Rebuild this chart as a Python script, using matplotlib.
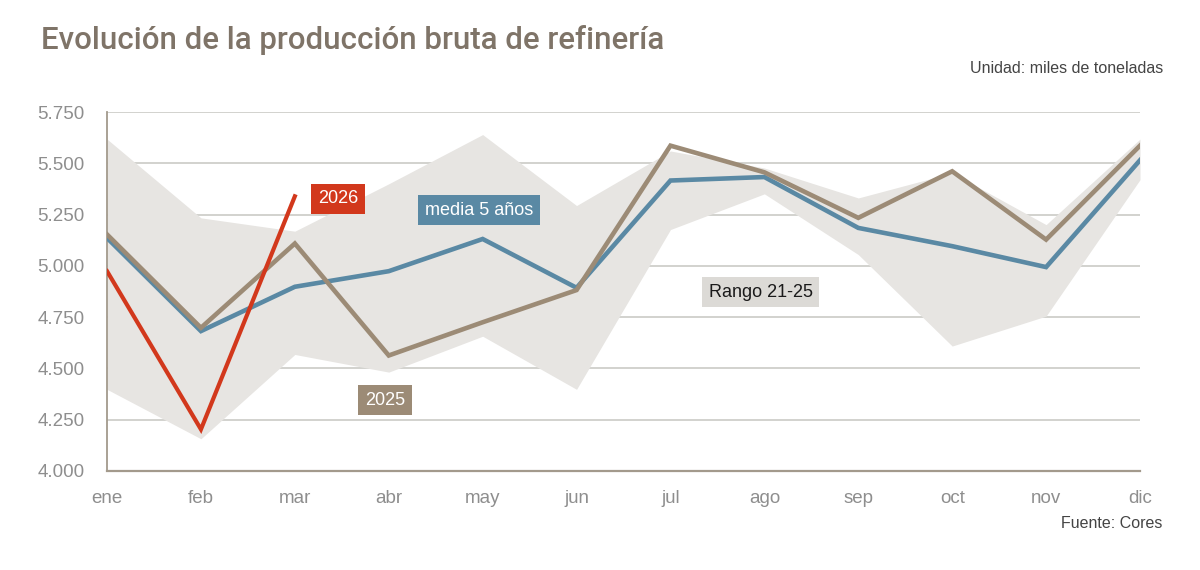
import matplotlib
matplotlib.use("Agg")
import matplotlib.pyplot as plt
from matplotlib.ticker import FuncFormatter

plt.rcParams['font.family'] = ['Liberation Sans', 'DejaVu Sans']

meses = ["ene", "feb", "mar", "abr", "may", "jun",
         "jul", "ago", "sep", "oct", "nov", "dic"]

# miles de toneladas
rango_max = [5618, 5234, 5169, 5400, 5640, 5294,
             5560, 5477, 5331, 5453, 5201, 5618]
rango_min = [4398, 4157, 4568, 4482, 4657, 4398,
             5177, 5351, 5055, 4609, 4755, 5420]
media_5 = [5136, 4682, 4898, 4974, 5131, 4893,
           5416, 5433, 5185, 5096, 4994, 5515]
prod_2025 = [5153, 4698, 5109, 4563, 4725, 4882,
             5586, 5456, 5234, 5461, 5128, 5586]
prod_2026 = [4974, 4203, 5339]

rojo = "#d2381c"
azul = "#5a89a4"
marron = "#9c8b76"
banda = "#e7e5e2"

x = list(range(len(meses)))

fig = plt.figure(figsize=(12, 5.7), dpi=100)
ax = fig.add_axes([0.0892, 0.1737, 0.8608, 0.6298])

ax.fill_between(x, rango_min, rango_max, color=banda, lw=0, zorder=2)
ax.plot(x, media_5, color=azul, lw=3.3, zorder=3, solid_joinstyle="miter")
ax.plot(x, prod_2025, color=marron, lw=3.3, zorder=4, solid_joinstyle="miter")
ax.plot(x[:len(prod_2026)], prod_2026, color=rojo, lw=3.0, zorder=5,
        solid_joinstyle="miter")

ax.set_xlim(0, 11)
ax.set_ylim(4000, 5750)
ax.set_yticks(range(4000, 5751, 250))
ax.yaxis.set_major_formatter(
    FuncFormatter(lambda v, p: f"{v / 1000:.3f}"))
ax.set_xticks(x)
ax.set_xticklabels(meses)
ax.grid(axis="y", color="#cfcfca", lw=1.3, zorder=1)
ax.set_axisbelow(True)
for s in ["top", "right"]:
    ax.spines[s].set_visible(False)
ax.spines["left"].set_color("#a39a8c")
ax.spines["left"].set_linewidth(1.3)
ax.spines["bottom"].set_color("#a39a8c")
ax.spines["bottom"].set_linewidth(1.6)
ax.tick_params(length=0, labelsize=13.5, labelcolor="#8e8e8e")
ax.tick_params(axis="x", pad=14)
ax.tick_params(axis="y", pad=16)

# etiquetas de series
caja = "square,pad=0.38"
ax.text(2.46, 5326, "2026", color="white", fontsize=13, ha="center",
        va="center", zorder=6, bbox=dict(boxstyle=caja, fc=rojo, ec="none"))
ax.text(3.96, 5272, "media 5 años", color="white", fontsize=13,
        ha="center", va="center", zorder=6,
        bbox=dict(boxstyle=caja, fc=azul, ec="none"))
ax.text(2.96, 4346, "2025", color="white", fontsize=13, ha="center",
        va="center", zorder=6, bbox=dict(boxstyle=caja, fc=marron, ec="none"))
ax.text(6.96, 4872, "Rango 21-25", color="#1a1a1a", fontsize=13,
        ha="center", va="center", zorder=6,
        bbox=dict(boxstyle=caja, fc="#dcdad6", ec="none"))

fig.text(0.034, 0.93, "Evolución de la producción bruta de refinería",
         color="#7f7468", fontsize=22.5, fontweight="medium", ha="left",
         va="center", family=["Roboto", "DejaVu Sans"])
fig.text(0.969, 0.88, "Unidad: miles de toneladas", color="#444444",
         fontsize=11.5, ha="right", va="center")
fig.text(0.969, 0.081, "Fuente: Cores", color="#444444",
         fontsize=11.5, ha="right", va="center")

fig.savefig("out.png", dpi=100, facecolor="white")
